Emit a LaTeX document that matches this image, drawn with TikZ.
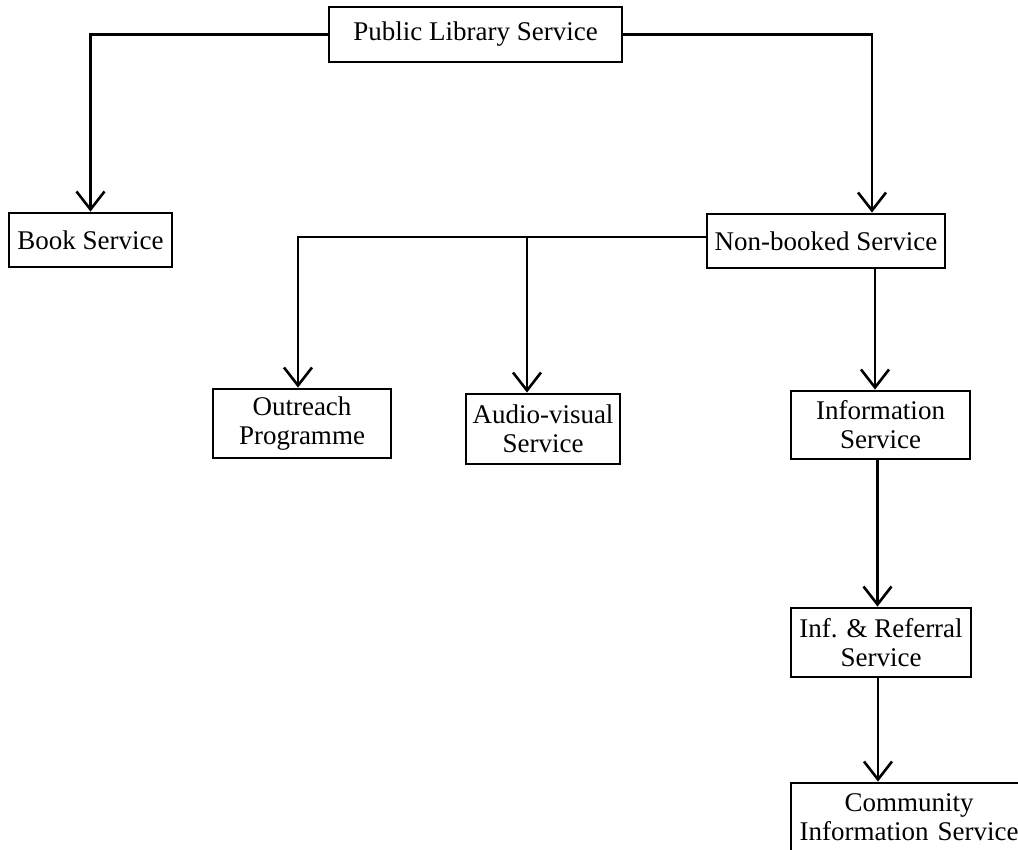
\documentclass[tikz,border=0pt]{standalone}
\usepackage{fontspec}
\setmainfont{Liberation Serif}
\usetikzlibrary{arrows.meta}
\begin{document}
\begin{tikzpicture}[x=1pt,y=-1pt,
  box/.style={draw, line width=2.8pt, inner sep=0pt, align=center,
    font=\fontsize{27}{29}\selectfont},
  link/.style={line width=2.8pt},
  arr/.style={link, -{Straight Barb[length=18pt,width=28pt,line width=2.6pt]}}]
\useasboundingbox (0,0) rectangle (1018,850);
\clip (0,0) rectangle (1018,850);
\fill[white] (0,0) rectangle (1018,850);

\node[box, minimum width=293pt, minimum height=55pt] (pub) at (475.5,34.5) {Public Library Service};
\node[box, minimum width=163pt, minimum height=54pt] (book) at (90.5,240) {Book Service};
\node[box, minimum width=238pt, minimum height=54pt] (non) at (826,241) {Non-booked Service};
\node[box, minimum width=178pt, minimum height=69pt] (out) at (302,423.5) {Outreach\\Programme};
\node[box, minimum width=154pt, minimum height=70pt] (aud) at (543,429) {Audio-visual\\Service};
\node[box, minimum width=179pt, minimum height=68pt] (info) at (880.5,425) {Information\\Service};
\node[box, minimum width=180pt, minimum height=69pt] (iref) at (881,642.5) {Inf. \& Referral\\Service};
\node[box, minimum width=250pt, minimum height=68pt, text width=250pt] (comm) at (916,817)
  {\hspace*{-14pt}Community\\\hspace*{-14pt}Information Service};

% top level
\draw[arr] (pub.west) -| (book.north);
\draw[arr] (pub.east) -| ([xshift=46pt]non.north);

% second level
\draw[arr] ([yshift=4pt]non.west) -| ([xshift=-4pt]out.north);
\draw[arr] ([xshift=-16pt,yshift=4pt]aud.north |- non.west) -- ([xshift=-16pt]aud.north);
\draw[arr] ([xshift=49pt]non.south) -- ([xshift=49pt]non.south |- info.north);

% information chain
\draw[arr] ([xshift=-3pt]info.south) -- ([xshift=-3pt]info.south |- iref.north);
\draw[arr] ([xshift=-3pt]iref.south) -- ([xshift=-3pt]iref.south |- comm.north);
\end{tikzpicture}
\end{document}
